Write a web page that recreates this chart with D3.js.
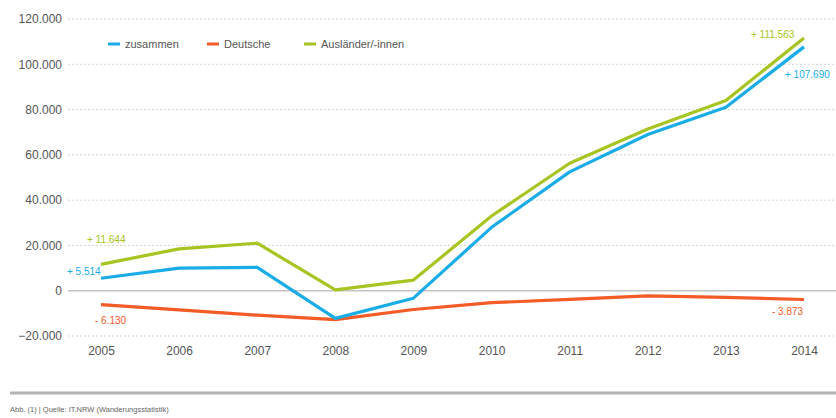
<!DOCTYPE html>
<html>
<head>
<meta charset="utf-8">
<script src="https://cdn.jsdelivr.net/npm/d3@7"></script>
<style>
  body { margin: 0; background: #fff; }
  svg text { font-family: "Liberation Sans", "DejaVu Sans", sans-serif; }
</style>
</head>
<body>
<svg id="chart" width="836" height="418"></svg>
<script>
var years = [2005, 2006, 2007, 2008, 2009, 2010, 2011, 2012, 2013, 2014],
    zusammen = [5514, 10000, 10300, -12200, -3300, 28000, 52500, 69000, 81000, 107690],
    deutsche = [-6130, -8500, -10800, -12800, -8300, -5300, -3800, -2300, -2900, -3873],
    auslaender = [11644, 18500, 21000, 400, 4700, 33000, 56300, 71400, 84000, 111563],
    yTicks = [-20000, 0, 20000, 40000, 60000, 80000, 100000, 120000];

var series = [
    { name: 'zusammen', values: zusammen, color: '#19ace6' },
    { name: 'Deutsche', values: deutsche, color: '#f35b27' },
    { name: 'Ausländer/-innen', values: auslaender, color: '#a6c523' }
];

var svg = d3.select('#chart');
var fmt = d3.formatLocale({ decimal: ',', thousands: '.', grouping: [3], currency: ['', '€'] }).format(',d');

var x = d3.scalePoint().domain(years).range([101, 804]);
var y = d3.scaleLinear().domain([-20000, 120000]).range([336, 19]);

// grid
svg.append('g').selectAll('line')
    .data(yTicks)
    .enter().append('line')
    .attr('x1', 68).attr('x2', 836)
    .attr('y1', function (d) { return y(d); })
    .attr('y2', function (d) { return y(d); })
    .attr('stroke', function (d) { return d === 0 ? '#c4c4c4' : '#d4d4d4'; })
    .attr('stroke-width', function (d) { return d === 0 ? 1.5 : 1; })
    .attr('stroke-dasharray', function (d) { return d === 0 ? null : '2,2'; });

var yAxis = d3.axisLeft(y).tickValues(yTicks).tickSize(0).tickPadding(0)
    .tickFormat(function (d) { return fmt(d); });
svg.append('g').attr('transform', 'translate(62,0)').call(yAxis)
    .call(function (g) { g.select('.domain').remove(); })
    .selectAll('text').attr('font-size', 12).attr('fill', '#555').attr('font-family', '"Liberation Sans", sans-serif');

var xAxis = d3.axisBottom(x).tickSize(0).tickPadding(0);
svg.append('g').attr('transform', 'translate(0,346)').call(xAxis)
    .call(function (g) { g.select('.domain').remove(); })
    .selectAll('text').attr('font-size', 12).attr('fill', '#555').attr('font-family', '"Liberation Sans", sans-serif');

var line = d3.line()
    .x(function (d, i) { return x(years[i]); })
    .y(function (d) { return y(d); });

svg.append('g').selectAll('path')
    .data([series[1], series[0], series[2]])
    .enter().append('path')
    .attr('d', function (s) { return line(s.values); })
    .attr('fill', 'none')
    .attr('stroke', function (s) { return s.color; })
    .attr('stroke-width', 3.2)
    .attr('stroke-linejoin', 'round');

// legend
var legendX = [108, 207, 304];
var legend = svg.append('g').selectAll('g')
    .data(series)
    .enter().append('g')
    .attr('transform', function (s, i) { return 'translate(' + legendX[i] + ',44)'; });
legend.append('line').attr('x1', 0).attr('x2', 12)
    .attr('stroke', function (s) { return s.color; }).attr('stroke-width', 3);
legend.append('text').attr('x', 17).attr('dy', '0.35em')
    .attr('font-size', 11).attr('fill', '#555')
    .text(function (s) { return s.name; });

// value labels
var labels = [
    { s: 2, i: 0, dx: -14, dy: -25, text: '+ 11.644' },
    { s: 0, i: 0, dx: -34, dy: -7, text: '+ 5.514' },
    { s: 1, i: 0, dx: -6, dy: 16, text: '- 6.130' },
    { s: 2, i: 9, dx: -53, dy: -4, text: '+ 111.563' },
    { s: 0, i: 9, dx: -19, dy: 28, text: '+ 107.690' },
    { s: 1, i: 9, dx: -32, dy: 12, text: '- 3.873' }
];
svg.append('g').selectAll('text')
    .data(labels)
    .enter().append('text')
    .attr('x', function (d) { return x(years[d.i]) + d.dx; })
    .attr('y', function (d) { return y(series[d.s].values[d.i]) + d.dy; })
    .attr('dy', '0.35em')
    .attr('font-size', 10)
    .attr('fill', function (d) { return series[d.s].color; })
    .text(function (d) { return d.text; });

// footer
svg.append('line').attr('x1', 10).attr('x2', 836).attr('y1', 393).attr('y2', 393)
    .attr('stroke', '#b4b4b4').attr('stroke-width', 3);
svg.append('text').attr('x', 10).attr('y', 412).attr('font-size', 7.5).attr('fill', '#666')
    .text('Abb. (1) | Quelle: IT.NRW (Wanderungsstatistik)');
</script>
</body>
</html>
